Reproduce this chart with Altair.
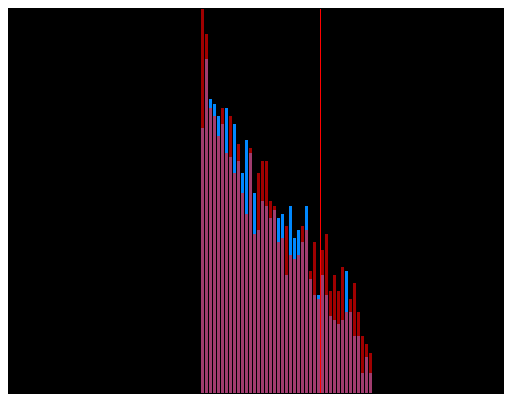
import altair as alt
import pandas as pd

# bin index of each histogram bar
bins = list(range(43))
# two overlaid histograms
blue = [273, 342, 302, 297, 285, 277, 293, 244, 277, 240,
        228, 261, 248, 208, 171, 200, 195, 183, 191, 183,
        187, 126, 195, 163, 171, 159, 195, 122, 106, 106,
        126, 106, 85, 81, 77, 81, 130, 89, 65, 65,
        28, 44, 28]
red = [400, 367, 293, 285, 265, 293, 248, 285, 228, 257,
       208, 187, 253, 167, 228, 240, 240, 200, 195, 159,
       163, 175, 146, 142, 146, 175, 171, 130, 159, 102,
       151, 167, 110, 126, 110, 134, 89, 102, 118, 89,
       65, 57, 48]
marker = [29.875]

df = pd.DataFrame({"bin": bins, "blue": blue, "red": red})
df["end"] = df["bin"] + 0.75
df["both"] = df[["blue", "red"]].min(axis=1)

xs = alt.Scale(domain=[-48.25, 75.75], nice=False, zero=False)
ys = alt.Scale(domain=[8, 392], nice=False, zero=False, clamp=True)

base = alt.Chart(df)


def bars(field, color):
    return base.mark_bar(color=color, opacity=1).encode(
        x=alt.X("bin:Q", scale=xs, axis=None), x2="end:Q",
        y=alt.Y(f"{field}:Q", scale=ys, axis=None), y2=alt.datum(0))


rule = alt.Chart(pd.DataFrame({"m": marker})).mark_rule(
    color="#ff0000", strokeWidth=1, opacity=1).encode(
    x=alt.X("m:Q", scale=xs, axis=None),
    y=alt.value(0), y2=alt.value(384))

chart = alt.layer(
    bars("red", "#a00000"), bars("blue", "#0088ff"), bars("both", "#a03c6e"), rule
).properties(
    width=496, height=384, padding=0, background="black"
).configure_view(stroke=None, fill="black")

chart.save("out.html", embed_options={"renderer": "svg", "actions": False})
